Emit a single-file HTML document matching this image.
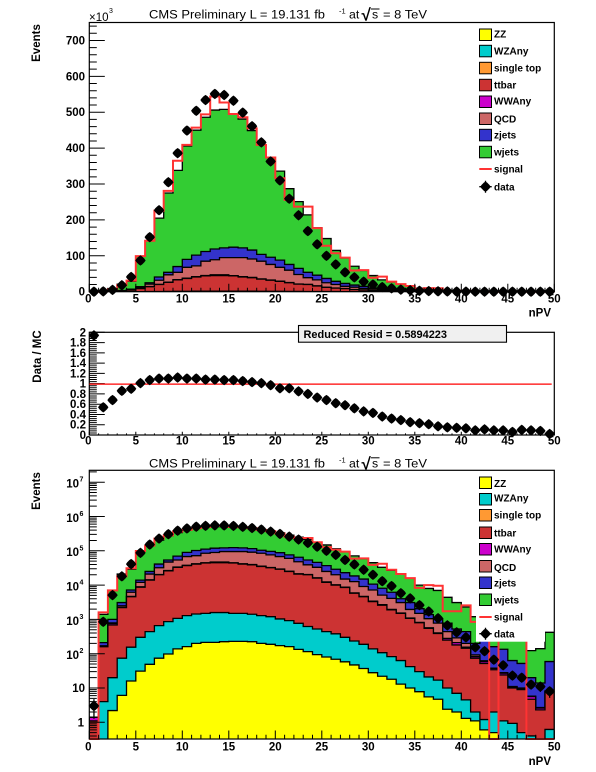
<!DOCTYPE html>
<html>
<head>
<meta charset="utf-8">
<title>CMS nPV stack plot</title>
<style>
html,body{margin:0;padding:0;background:#fff;}
svg{display:block;filter:blur(0.3px);}
text{font-family:"Liberation Sans",sans-serif;fill:#000;}
</style>
</head>
<body>
<svg id="chart" width="596" height="772" viewBox="0 0 596 772" xmlns="http://www.w3.org/2000/svg"></svg>
<script>
// Stack levels per nPV bin (cumulative events, bottom of the stack first)
const zzStack = [0,0,2.2,6.1,16,31,49,74,98,138,161,200,214,214,224,229,229,224,200,188,172,161,134,115,94,80,69,58,47,37,28,22,18,13,10,7.8,5.5,4.7,2.4,2,1.3,1.1,0.6,0.5,0,0,0,0,0,0];
const wzStack = [0,4,20,74,155,300,440,660,860,1070,1290,1440,1500,1580,1580,1500,1500,1410,1290,1200,1030,920,770,620,525,440,380,300,235,188,138,107,82,63,42,30,21,17,10,7,4.5,2,1.2,2,1.1,0.93,0.5,0.4,0,0.62];
const ttbarStack = [1.1,160,690,2200,4600,8700,14000,20000,26000,33000,37000,41000,44000,45000,45000,44000,41000,39000,35000,32000,29000,25000,21000,20000,16000,12000,10000,8500,5800,4600,3300,2600,1900,1500,1070,800,550,390,250,180,145,74,52,34,24,10,9,4.7,2.3,7.8];
const wwStack = [1.4,165,760,2250,4700,8900,14300,20400,26500,33600,37700,41800,44900,47000,47000,44800,41800,39700,35600,32600,29500,25400,21300,20300,16300,12400,10200,8700,5900,4700,3400,2700,1950,1540,1100,820,570,405,280,210,155,82,59,37,27,10.5,9.5,5.6,2.6,8];
const qcdStack = [1.4,170,790,2500,6200,12000,21000,32000,47000,54000,68000,72000,85000,89000,95000,95000,95000,91000,85000,76000,68000,60000,48000,39000,33000,25000,20000,15000,12600,9100,7200,5100,4100,3100,1950,1500,1050,780,440,290,200,92,62,38,28,11,10,5.8,2.7,8.2];
const zjetsStack = [1.4,210,1000,3100,7200,14000,25000,41000,54000,70000,90000,102000,112000,119000,122000,124000,122000,116000,104000,96000,88000,76000,65000,54000,46000,37000,29000,23000,18500,15000,10700,8100,6200,4000,3100,2050,1380,1050,780,525,440,200,240,160,135,63,52,20,14,59];
const wjetsStack = [1.4,1400,7000,21000,29000,99000,142000,205000,275000,338000,406000,450000,486000,506000,508000,495000,481000,449000,409000,373000,336000,287000,251000,214000,178000,148000,115000,94000,71000,59000,45000,33000,27000,21000,16000,10000,8000,7000,4400,3100,2300,1200,1000,800,500,450,400,123,140,420];
const signalValues = [0,1600,7000,18000,31000,99000,142000,226000,281000,365000,409000,457000,494000,544000,527000,495000,486000,455000,409000,374000,316000,256000,237000,237000,177000,128000,107000,95000,59000,60000,39000,42000,28000,21000,16000,8300,10000,9600,1730,1730,2570,850,600,0,500,500,500,0,0,0];
const dataValues = [3,850,5100,18000,41000,87000,152000,227000,305000,386000,449000,504000,534000,551000,548000,532000,499000,461000,416000,363000,310000,259000,213000,169000,132000,100000,76000,54000,40000,28000,20000,13000,9400,5800,4100,2600,1700,1080,670,420,300,154,118,67,46,23,20,12.6,11,8];
const ratioValues = [1.94,0.54,0.68,0.86,0.90,1.01,1.07,1.10,1.10,1.12,1.10,1.10,1.08,1.08,1.07,1.07,1.05,1.03,1.01,0.97,0.91,0.91,0.85,0.80,0.73,0.68,0.62,0.58,0.52,0.46,0.43,0.36,0.32,0.29,0.25,0.23,0.21,0.17,0.15,0.14,0.13,0.09,0.11,0.09,0.09,0.06,0.10,0.09,0.08,0.02];

// Axis tick labels
const xTickLabels = [0,5,10,15,20,25,30,35,40,45,50];
const linearTickLabels = [0,100,200,300,400,500,600,700];
const ratioTickLabels = ['0','0.2','0.4','0.6','0.8','1','1.2','1.4','1.6','1.8','2'];
const logDecades = [0,1,2,3,4,5,6,7];
const legendLabels = ['ZZ','WZAny','single top','ttbar','WWAny','QCD','zjets','wjets'];

const NS = 'http://www.w3.org/2000/svg';
const svg = document.getElementById('chart');
const C = {zz:'#ffff00',wz:'#00cccc',st:'#ff9933',tt:'#cc3333',ww:'#cc00cc',qcd:'#cc6666',zj:'#3333cc',wj:'#33cc33'};
const legendColors = [C.zz,C.wz,C.st,C.tt,C.ww,C.qcd,C.zj,C.wj];
const stackOrder = [
  {key:'wjets',vals:wjetsStack,col:C.wj},
  {key:'zjets',vals:zjetsStack,col:C.zj},
  {key:'qcd',vals:qcdStack,col:C.qcd},
  {key:'wwany',vals:wwStack,col:C.ww},
  {key:'ttbar',vals:ttbarStack,col:C.tt},
  {key:'wzany',vals:wzStack,col:C.wz},
  {key:'zz',vals:zzStack,col:C.zz}
];
const X0 = 89.3, X1 = 554.3, XMAX = 50;
const xScale = v => X0 + (X1 - X0) * v / XMAX;

function make(tag, attrs, parent, txt){
  const e = document.createElementNS(NS, tag);
  for (const k in attrs) e.setAttribute(k, attrs[k]);
  if (txt !== undefined) e.textContent = txt;
  (parent || svg).appendChild(e);
  return e;
}
function tickPath(segs){ return segs.map(s => 'M'+s[0]+' '+s[1]+'L'+s[2]+' '+s[3]).join(''); }
function label(parent, x, y, s, size, anchor, weight){
  return make('text', {x:x, y:y, 'font-size':size, 'text-anchor':anchor||'start', 'font-weight':weight||'bold'}, parent, s);
}

function stepPath(vals, yFn, base){
  let d = 'M'+xScale(0)+' '+base;
  vals.forEach((v,i)=>{ const y = yFn(v); d += 'L'+xScale(i)+' '+y+'L'+xScale(i+1)+' '+y; });
  return d;
}

function drawStack(g, yFn, base, clipId){
  const sg = make('g', {'clip-path':'url(#'+clipId+')'}, g);
  
  
  stackOrder.forEach(s=>{
    const p = make('path', {d:stepPath(s.vals,yFn,base)+'L'+xScale(XMAX)+' '+base+'Z', fill:s.col, stroke:'#000', 'stroke-width':1.3}, sg);
    
    
  });
}
function drawSignal(g, yFn, base){
  const p = make('path', {d:stepPath(signalValues,yFn,base)+'L'+xScale(XMAX)+' '+base, fill:'none', stroke:'#ff3333', 'stroke-width':2}, g);
  
  
}
const MARKER = '-5.2,0 -3.9,-1.8 -1.8,-3.9 0,-5.2 1.8,-3.9 3.9,-1.8 5.2,0 3.9,1.8 1.8,3.9 0,5.2 -1.8,3.9 -3.9,1.8';
function marker(g, x, y){
  const m = make('polygon', {points:MARKER, fill:'#000', transform:'translate('+x+' '+y+')'}, g);
  return m;
}
function drawData(g, vals, yFn, errFn){
  const dg = make('g', {}, g);
  
  
  vals.forEach((v,i)=>{
    const x = xScale(i+0.5);
    if (errFn){
      const e = errFn(v);
      const l = make('line', {x1:x, x2:x, y1:e[0], y2:e[1], stroke:'#000', 'stroke-width':1.3}, dg);
      
      
    }
    const m = marker(dg, x, yFn(v));
    
    
  });
}
function drawFrame(g, top, bottom){
  const r = make('rect', {x:X0, y:top, width:X1-X0, height:bottom-top, fill:'none', stroke:'#000', 'stroke-width':1.2}, g);
  
  
}
function drawXAxis(g, bottom, majLen, minLen, labelY){
  const segs = [];
  for (let i=0;i<=XMAX;i++){
    const x = xScale(i);
    segs.push([x,bottom,x,bottom-(i%5===0?majLen:minLen)]);
  }
  const p = make('path', {d:tickPath(segs), stroke:'#000', 'stroke-width':1, fill:'none'}, g);
  
  
  xTickLabels.forEach(t=>{
    const tx = label(g, xScale(t)-(t===0?1:0), labelY, String(t), 11.5, 'middle');
    
    
  });
}
function drawYTicks(g, majors, minors){
  const segs = [];
  majors.forEach(y=>segs.push([X0,y,X0+15.5,y]));
  minors.forEach(y=>segs.push([X0,y,X0+7.5,y]));
  const p = make('path', {d:tickPath(segs), stroke:'#000', 'stroke-width':1, fill:'none'}, g);
  
  
}
function drawAxisTitle(g, s, x, y, name){
  const t = make('text', {transform:'translate('+x+' '+y+') rotate(-90)', 'font-size':11.5, 'font-weight':'bold', 'text-anchor':'middle'}, g, s);
  
  
}
function drawXTitle(g, y){
  const t = make('text', {x:551, y:y, 'font-size':11.5, 'font-weight':'bold', 'text-anchor':'end'}, g, 'nPV');
  
  
}
function drawTitle(g, base){
  const tg = make('g', {}, g);
  
  
  make('text', {x:149, y:base, 'font-size':12.3, textLength:176, lengthAdjust:'spacingAndGlyphs'}, tg, 'CMS Preliminary L = 19.131 fb');
  make('text', {x:339, y:base-5, 'font-size':7.5}, tg, '-1');
  make('text', {x:349, y:base, 'font-size':12.3}, tg, 'at');
  make('text', {x:361.5, y:base+2, 'font-size':17, 'font-weight':'bold'}, tg, '\u221A');
  make('line', {x1:371, x2:379.5, y1:base-9.5, y2:base-9.5, stroke:'#000', 'stroke-width':1}, tg);
  make('text', {x:372, y:base, 'font-size':12.3}, tg, 's');
  make('text', {x:383, y:base, 'font-size':12.3, textLength:44, lengthAdjust:'spacingAndGlyphs'}, tg, '= 8 TeV');
}
function drawLegend(g, swatchTops, textMids, lineY, dataY, withBox){
  const lg = make('g', {}, g);
  
  
  if (withBox){
    const b = make('rect', {x:476, y:withBox[0], width:69, height:withBox[1]-withBox[0], fill:'#fff'}, lg);
    
    
  }
  legendLabels.forEach((s,i)=>{
    const r = make('rect', {x:479.5, y:swatchTops[i], width:12, height:11.5, fill:legendColors[i], stroke:'#000', 'stroke-width':1}, lg);
    
    
    const t = label(lg, 494, textMids[i]+3.7, s, 10);
    
    
  });
  const sl = make('line', {x1:479.3, x2:491.7, y1:lineY, y2:lineY, stroke:'#ff3333', 'stroke-width':2}, lg);
  
  
  const st = label(lg, 494, lineY+3.7, 'signal', 10);
  
  
  const dl = make('path', {d:'M479.3 '+dataY+'H491.7M485.5 '+(dataY-6)+'V'+(dataY+6), stroke:'#000', 'stroke-width':1.3, fill:'none'}, lg);
  
  
  const dm = marker(lg, 485.5, dataY);
  
  
  const dt = label(lg, 494, dataY+3.7, 'data', 10);
  
  
}
const defs = make('defs', {});
function addClip(id, top, bottom){
  const c = make('clipPath', {id:id}, defs);
  make('rect', {x:X0, y:top, width:X1-X0, height:bottom-top}, c);
}

/* ---------- linear panel ---------- */
(function(){
  const top = 22.5, bottom = 291.7, ymax = 750000;
  const y = v => bottom - (bottom-top) * Math.min(v,ymax) / ymax;
  addClip('clipLinear', top, bottom);
  const g = make('g', {});
  
  
  drawStack(g, y, bottom, 'clipLinear');
  drawSignal(g, y, bottom);
  const maj = [], min = [];
  for (let v=0; v<=ymax; v+=20000){ (v%100000===0 ? maj : min).push(y(v)); }
  drawYTicks(g, maj, min);
  drawXAxis(g, bottom, 8, 4, 302.5);
  drawFrame(g, top, bottom);
  linearTickLabels.forEach(t=>{
    const tx = label(g, 85, y(t*1000)+4, String(t), 11.5, 'end');
    
    
  });
  const m = make('g', {}, g);
  
  
  make('text', {x:89, y:21, 'font-size':11.5}, m, '\u00D710');
  make('text', {x:109, y:13, 'font-size':7}, m, '3');
  drawAxisTitle(g, 'Events', 40, 43, 'y-axis-title');
  drawXTitle(g, 316.7);
  drawTitle(g, 18.5);
  drawData(g, dataValues, y);
  drawLegend(g, [29,45.3,62.3,79.3,96,113,129.3,146.3], [34,50.7,67.7,84.7,101,119,135,152], 169, 186.7);
})();

/* ---------- ratio panel ---------- */
(function(){
  const top = 332.3, bottom = 435, ymax = 2;
  const y = v => bottom - (bottom-top) * v / ymax;
  const g = make('g', {});
  
  
  const maj = [], min = [];
  for (let k=0; k<=50; k++){ (k%5===0 ? maj : min).push(y(k*0.04)); }
  drawYTicks(g, maj, min);
  drawXAxis(g, bottom, 3.2, 1.6, 444.3);
  drawFrame(g, top, bottom);
  const ref = make('line', {x1:X0, x2:551.7, y1:y(1)+0.5, y2:y(1)+0.5, stroke:'#ff0000', 'stroke-width':1.3}, g);
  
  
  ratioTickLabels.forEach(s=>{
    const tx = label(g, 86, y(parseFloat(s))+4, s, 11.5, 'end');
    
    
  });
  drawAxisTitle(g, 'Data / MC', 41, 356.5, 'y-axis-title');
  drawData(g, ratioValues, y);
  const bg = make('g', {}, g);
  
  
  make('rect', {x:298.5, y:325.5, width:208, height:16.7, fill:'#f0f0f0', stroke:'#000', 'stroke-width':1.1}, bg);
  make('text', {x:303.5, y:337.8, 'font-size':11, 'font-weight':'bold', textLength:143.5, lengthAdjust:'spacingAndGlyphs'}, bg, 'Reduced Resid = 0.5894223');
})();

/* ---------- log panel ---------- */
(function(){
  const top = 470.3, bottom = 739, one = 722.3, decade = 34.3;
  const y = v => {
    if (v <= 0) return bottom;
    return Math.min(bottom, Math.max(top, one - decade * Math.log10(v)));
  };
  const yOpen = v => (v <= 0 ? bottom + 3 : Math.min(bottom + 3, one - decade * Math.log10(v)));
  addClip('clipLog', top, bottom);
  const g = make('g', {});
  
  
  drawStack(g, yOpen, bottom + 3, 'clipLog');
  drawSignal(g, y, bottom);
  const maj = [], min = [];
  for (let d=-1; d<=7; d++){
    for (let k=1; k<10; k++){
      const yy = one - decade * (d + Math.log10(k));
      if (yy < top || yy > bottom) continue;
      (k===1 ? maj : min).push(yy);
    }
  }
  drawYTicks(g, maj, min);
  drawXAxis(g, bottom, 8.5, 4.2, 750.7);
  drawFrame(g, top, bottom);
  logDecades.forEach(d=>{
    const yy = one - decade * d;
    const lg = make('g', {}, g);
    
    
    if (d === 0) make('text', {x:84, y:yy+4, 'font-size':11.5, 'font-weight':'bold', 'text-anchor':'end'}, lg, '1');
    else if (d === 1) make('text', {x:85, y:yy+4, 'font-size':11.5, 'font-weight':'bold', 'text-anchor':'end'}, lg, '10');
    else {
      make('text', {x:79, y:yy+5.4, 'font-size':11.5, 'font-weight':'bold', 'text-anchor':'end'}, lg, '10');
      make('text', {x:79.5, y:yy-0.5, 'font-size':7, 'font-weight':'bold'}, lg, String(d));
    }
  });
  drawAxisTitle(g, 'Events', 40, 491, 'y-axis-title');
  drawXTitle(g, 765);
  drawTitle(g, 467.3);
  drawData(g, dataValues, y, v => [y(Math.max(v - Math.sqrt(v), 0.01)), y(v + Math.sqrt(v))]);
  drawLegend(g, [477,493.5,509.5,527,543.5,560.5,577,594], [483.3,497.7,515,532.7,548.7,567.3,582.7,599.7], 617, 633.7, [471,641.7]);
})();
</script>
</body>
</html>
